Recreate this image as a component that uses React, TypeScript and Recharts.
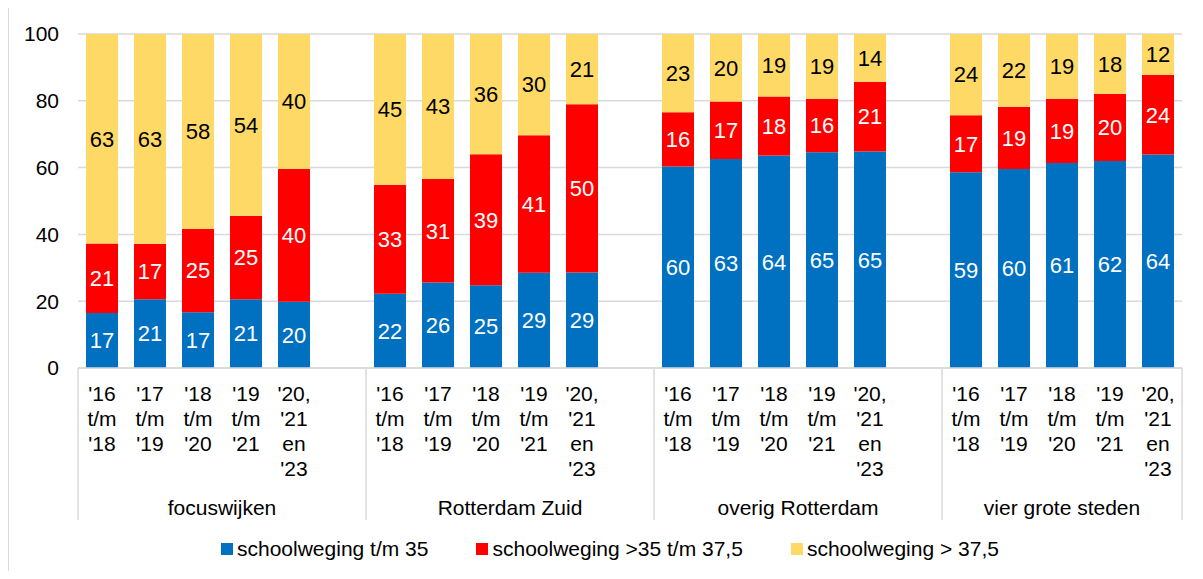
import React from 'react';
import { BarChart, Bar, XAxis, YAxis, CartesianGrid, Legend, LabelList } from 'recharts';

const groups = ['focuswijken', 'Rotterdam Zuid', 'overig Rotterdam', 'vier grote steden'];
const periods = [
  ["'16", 't/m', "'18"],
  ["'17", 't/m', "'19"],
  ["'18", 't/m', "'20"],
  ["'19", 't/m', "'21"],
  ["'20,", "'21", 'en', "'23"],
];

// schoolweging t/m 35
const low = [
  [16.5, 20.6, 16.7, 20.6, 19.8],
  [22.2, 25.6, 24.8, 28.5, 28.6],
  [60.3, 62.6, 63.6, 64.6, 64.8],
  [58.6, 59.6, 61.4, 62.0, 63.9],
];
// schoolweging >35 t/m 37,5
const mid = [
  [20.8, 16.6, 24.9, 25.0, 39.8],
  [32.7, 31.0, 39.2, 41.2, 50.4],
  [16.3, 17.2, 17.7, 16.0, 20.9],
  [17.1, 18.6, 19.2, 20.0, 23.8],
];
// schoolweging > 37,5
const high = [
  [62.7, 62.8, 58.4, 54.4, 40.4],
  [45.1, 43.4, 36.0, 30.3, 21.0],
  [23.4, 20.2, 18.7, 19.4, 14.3],
  [24.3, 21.8, 19.4, 18.0, 12.3],
];

const seriesNames = ['schoolweging t/m 35', 'schoolweging >35 t/m 37,5', 'schoolweging > 37,5'];
const colors = ['#0070C0', '#FF0000', '#FFD966'];
const yTicks = [0, 20, 40, 60, 80, 100];

// one row per bar, plus an empty slot after each group (not after the last)
type Row = { key: string; group: number; period: number; low: number | null; mid: number | null; high: number | null };
const rows: Row[] = [];
groups.forEach((_, g) => {
  periods.forEach((_, p) => {
    rows.push({ key: `${g}-${p}`, group: g, period: p, low: low[g][p], mid: mid[g][p], high: high[g][p] });
  });
  if (g < groups.length - 1) rows.push({ key: `gap-${g}`, group: g, period: -1, low: null, mid: null, high: null });
});

const W = 1187;
const H = 563;
const margin = { top: 26, right: 13, left: 10, bottom: 11 };
const Y_W = 60;
const SLOT = (W - margin.left - margin.right - Y_W) / rows.length;
const FONT = '"Liberation Sans", Arial, sans-serif';
const GRID = '#D9D9D9';

const CategoryTick = (props: any) => {
  const { x, y, index } = props;
  const row = rows[index];
  if (!row) return null;
  const half = SLOT / 2;
  const parts: React.ReactNode[] = [];
  if (row.period === 0 && row.group === 0) {
    parts.push(<line key="l" x1={x - half} x2={x - half} y1={y} y2={y + 152} stroke={GRID} strokeWidth={1.5} />);
  }
  if (row.period === -1 || index === rows.length - 1) {
    parts.push(<line key="r" x1={x + half} x2={x + half} y1={y} y2={y + 152} stroke={GRID} strokeWidth={1.5} />);
  }
  if (row.period >= 0) {
    periods[row.period].forEach((t, i) => {
      parts.push(
        <text key={`t${i}`} x={x} y={y + 25 + i * 25} textAnchor="middle" dominantBaseline="central" fontSize={21} fill="#000">
          {t}
        </text>
      );
    });
  }
  if (row.period === 2) {
    const hasGap = row.group < groups.length - 1;
    const cx = hasGap ? x + half : x;
    parts.push(
      <text key="g" x={cx} y={y + 139} textAnchor="middle" dominantBaseline="central" fontSize={21} fill="#000">
        {groups[row.group]}
      </text>
    );
  }
  return <g>{parts}</g>;
};

const LegendContent = () => (
  <div style={{ height: 40, paddingTop: 18, boxSizing: 'border-box', display: 'flex', fontSize: 21, lineHeight: '22px', paddingLeft: 203, fontFamily: FONT, color: '#000' }}>
    {seriesNames.map((n, i) => (
      <div key={n} style={{ display: 'flex', alignItems: 'center', marginRight: 48 }}>
        <span style={{ width: 12, height: 12, background: colors[i], marginRight: 4, display: 'inline-block' }} />
        <span>{n}</span>
      </div>
    ))}
  </div>
);

const fmt = (v: any) => (v == null ? '' : Math.round(Number(v)));

export default function App() {
  return (
    <div style={{ position: 'relative', width: W, height: H, fontFamily: FONT }}>
      <div style={{ position: 'absolute', left: 0, top: -1, width: W, height: H + 1, borderTop: `1.5px solid ${GRID}`, borderLeft: `1.5px solid ${GRID}`, boxSizing: 'border-box' }} />
      <BarChart width={W} height={H} data={rows} margin={margin} barSize={32}>
        <CartesianGrid vertical={false} stroke={GRID} strokeWidth={1.5} />
        <XAxis
          dataKey="key"
          interval={0}
          height={152}
          tickLine={false}
          tickSize={0}
          tickMargin={0}
          axisLine={{ stroke: GRID, strokeWidth: 1.5 }}
          tick={<CategoryTick />}
        />
        <YAxis
          width={Y_W}
          domain={[0, 100]}
          ticks={yTicks}
          allowDataOverflow
          axisLine={false}
          tickLine={false}
          tickSize={0}
          tickMargin={19}
          tick={{ fill: '#000', fontSize: 21 }}
        />
        <Legend verticalAlign="bottom" content={<LegendContent />} />
        <Bar dataKey="low" stackId="a" fill={colors[0]} isAnimationActive={false}>
          <LabelList dataKey="low" position="center" fill="#fff" fontSize={22} formatter={fmt} />
        </Bar>
        <Bar dataKey="mid" stackId="a" fill={colors[1]} isAnimationActive={false}>
          <LabelList dataKey="mid" position="center" fill="#fff" fontSize={22} formatter={fmt} />
        </Bar>
        <Bar dataKey="high" stackId="a" fill={colors[2]} isAnimationActive={false}>
          <LabelList dataKey="high" position="center" fill="#000" fontSize={22} formatter={fmt} />
        </Bar>
      </BarChart>
    </div>
  );
}
